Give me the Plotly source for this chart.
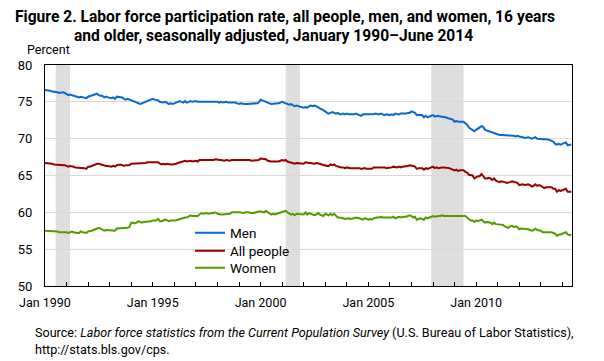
import plotly.graph_objects as go

# ---- data (monthly, Jan 1990 - Jun 2014) ----
men = [
    76.6, 76.6, 76.5, 76.5, 76.4, 76.4, 76.3, 76.3, 76.2, 76.3, 76.3, 76.2,  # 1990
    76.0, 75.9, 76.0, 75.9, 75.8, 75.8, 75.7, 75.6, 75.7, 75.6, 75.5, 75.5,  # 1991
    75.7, 75.8, 75.9, 76.0, 76.1, 76.1, 75.9, 75.9, 75.8, 75.6, 75.7, 75.6,  # 1992
    75.5, 75.5, 75.6, 75.4, 75.7, 75.7, 75.6, 75.6, 75.4, 75.3, 75.4, 75.3,  # 1993
    75.2, 75.1, 75.0, 74.9, 74.8, 74.7, 74.8, 74.9, 75.1, 75.2, 75.3, 75.3,  # 1994
    75.4, 75.3, 75.3, 75.2, 75.0, 74.9, 74.9, 75.0, 74.8, 74.7, 74.8, 74.7,  # 1995
    74.8, 74.9, 75.0, 75.1, 75.0, 74.9, 75.1, 74.9, 75.0, 75.1, 75.0, 75.1,  # 1996
    75.1, 75.0, 75.0, 75.1, 75.1, 75.0, 75.0, 75.1, 75.0, 75.0, 75.1, 75.0,  # 1997
    75.0, 74.9, 75.0, 74.9, 75.0, 75.0, 74.9, 74.9, 75.0, 74.9, 74.9, 74.8,  # 1998
    74.7, 74.8, 74.7, 74.7, 74.7, 74.7, 74.8, 74.7, 74.7, 74.7, 74.8, 74.9,  # 1999
    75.3, 75.2, 75.1, 74.9, 74.8, 74.8, 74.7, 74.7, 74.8, 74.7, 74.8, 74.9,  # 2000
    75.0, 74.9, 74.8, 74.7, 74.6, 74.7, 74.6, 74.4, 74.5, 74.4, 74.3, 74.3,  # 2001
    74.2, 74.3, 74.2, 74.4, 74.5, 74.4, 74.5, 74.4, 74.2, 74.1, 74.0, 73.9,  # 2002
    73.7, 73.5, 73.4, 73.5, 73.6, 73.5, 73.4, 73.5, 73.3, 73.3, 73.4, 73.3,  # 2003
    73.4, 73.3, 73.3, 73.2, 73.3, 73.4, 73.3, 73.3, 73.1, 73.3, 73.3, 73.2,  # 2004
    73.2, 73.3, 73.2, 73.3, 73.4, 73.3, 73.3, 73.4, 73.3, 73.2, 73.3, 73.2,  # 2005
    73.2, 73.3, 73.2, 73.4, 73.3, 73.3, 73.4, 73.4, 73.3, 73.4, 73.5, 73.5,  # 2006
    73.7, 73.6, 73.5, 73.2, 73.2, 73.1, 73.2, 72.9, 73.1, 72.9, 73.0, 73.1,  # 2007
    73.2, 73.0, 73.1, 73.1, 73.0, 73.0, 73.0, 72.9, 72.8, 72.7, 72.6, 72.6,  # 2008
    72.3, 72.4, 72.3, 72.3, 72.3, 72.3, 72.1, 71.9, 71.5, 71.3, 71.2, 71.0,  # 2009
    71.2, 71.4, 71.5, 71.7, 71.6, 71.2, 71.1, 71.0, 70.9, 70.8, 70.7, 70.6,  # 2010
    70.5, 70.5, 70.5, 70.5, 70.5, 70.4, 70.5, 70.4, 70.5, 70.4, 70.3, 70.4,  # 2011
    70.3, 70.3, 70.2, 70.1, 70.2, 70.2, 70.1, 70.0, 70.1, 70.2, 70.0, 70.0,  # 2012
    70.0, 69.9, 69.9, 70.0, 69.9, 69.8, 69.7, 69.6, 69.3, 69.2, 69.3, 69.2,  # 2013
    69.3, 69.4, 69.5, 69.1, 69.2, 69.2,                                      # 2014
]

all_people = [
    66.7, 66.7, 66.7, 66.6, 66.6, 66.5, 66.5, 66.4, 66.4, 66.4, 66.4, 66.4,  # 1990
    66.3, 66.2, 66.3, 66.3, 66.2, 66.1, 66.1, 66.0, 66.0, 66.1, 66.0, 65.9,  # 1991
    66.2, 66.2, 66.3, 66.4, 66.5, 66.6, 66.6, 66.5, 66.5, 66.3, 66.3, 66.3,  # 1992
    66.2, 66.2, 66.3, 66.2, 66.4, 66.5, 66.5, 66.4, 66.3, 66.4, 66.4, 66.4,  # 1993
    66.6, 66.6, 66.6, 66.7, 66.7, 66.6, 66.6, 66.7, 66.7, 66.8, 66.8, 66.8,  # 1994
    66.8, 66.8, 66.8, 66.8, 66.6, 66.5, 66.6, 66.5, 66.6, 66.5, 66.5, 66.5,  # 1995
    66.5, 66.6, 66.7, 66.8, 66.8, 66.9, 67.0, 66.9, 67.0, 67.0, 66.9, 67.0,  # 1996
    67.0, 66.9, 67.1, 67.1, 67.1, 67.1, 67.1, 67.0, 67.1, 67.1, 67.1, 67.2,  # 1997
    67.1, 67.1, 67.1, 67.0, 67.0, 67.1, 67.0, 67.0, 67.1, 67.1, 67.1, 67.2,  # 1998
    67.2, 67.2, 67.1, 67.1, 67.1, 67.1, 67.1, 67.0, 67.0, 67.1, 67.1, 67.1,  # 1999
    67.3, 67.3, 67.3, 67.2, 67.0, 66.9, 66.9, 66.9, 66.9, 66.8, 66.9, 67.0,  # 2000
    67.1, 67.0, 67.1, 66.9, 66.8, 66.7, 66.7, 66.6, 66.7, 66.7, 66.7, 66.7,  # 2001
    66.6, 66.8, 66.7, 66.7, 66.7, 66.6, 66.6, 66.7, 66.7, 66.6, 66.5, 66.4,  # 2002
    66.4, 66.3, 66.3, 66.5, 66.4, 66.5, 66.3, 66.2, 66.1, 66.1, 66.1, 66.0,  # 2003
    66.1, 66.0, 66.0, 66.0, 66.0, 66.1, 66.1, 66.0, 65.9, 66.0, 66.0, 65.9,  # 2004
    65.9, 66.0, 65.9, 66.1, 66.1, 66.1, 66.1, 66.2, 66.1, 66.1, 66.0, 66.0,  # 2005
    66.0, 66.1, 66.2, 66.1, 66.1, 66.2, 66.1, 66.2, 66.2, 66.2, 66.3, 66.4,  # 2006
    66.4, 66.3, 66.2, 65.9, 66.0, 66.0, 66.0, 65.8, 66.0, 65.9, 66.0, 66.0,  # 2007
    66.2, 66.0, 66.1, 66.0, 66.1, 66.1, 66.1, 66.1, 66.0, 66.0, 65.9, 65.8,  # 2008
    65.7, 65.8, 65.6, 65.7, 65.7, 65.7, 65.5, 65.4, 65.1, 65.0, 65.0, 64.6,  # 2009
    64.8, 64.9, 64.9, 65.2, 64.9, 64.6, 64.6, 64.7, 64.6, 64.4, 64.6, 64.3,  # 2010
    64.2, 64.1, 64.2, 64.2, 64.1, 64.0, 64.0, 64.1, 64.2, 64.1, 64.1, 64.0,  # 2011
    63.7, 63.8, 63.8, 63.7, 63.8, 63.8, 63.7, 63.5, 63.6, 63.8, 63.6, 63.7,  # 2012
    63.6, 63.4, 63.3, 63.4, 63.4, 63.4, 63.4, 63.2, 63.2, 62.8, 63.0, 62.9,  # 2013
    63.0, 63.0, 63.2, 62.8, 62.8, 62.8,                                      # 2014
]

women = [
    57.5, 57.5, 57.5, 57.4, 57.5, 57.4, 57.4, 57.4, 57.3, 57.3, 57.3, 57.4,  # 1990
    57.3, 57.2, 57.3, 57.4, 57.3, 57.2, 57.2, 57.2, 57.4, 57.3, 57.3, 57.2,  # 1991
    57.4, 57.4, 57.5, 57.6, 57.7, 57.8, 57.9, 57.8, 57.7, 57.5, 57.6, 57.6,  # 1992
    57.5, 57.5, 57.6, 57.5, 57.8, 57.8, 57.9, 57.8, 57.8, 57.9, 57.9, 58.0,  # 1993
    58.6, 58.6, 58.5, 58.6, 58.8, 58.7, 58.6, 58.7, 58.7, 58.8, 58.8, 58.8,  # 1994
    58.9, 58.9, 58.9, 59.1, 58.8, 58.8, 58.9, 59.0, 58.9, 58.8, 58.9, 58.9,  # 1995
    58.8, 58.9, 59.0, 59.1, 59.2, 59.3, 59.3, 59.3, 59.4, 59.6, 59.5, 59.5,  # 1996
    59.6, 59.5, 59.7, 59.9, 59.8, 59.9, 59.9, 59.8, 59.9, 59.9, 59.9, 60.0,  # 1997
    59.8, 59.7, 59.7, 59.7, 59.7, 59.8, 59.7, 59.8, 60.0, 60.0, 60.0, 60.1,  # 1998
    60.0, 60.0, 59.9, 60.0, 60.0, 60.0, 59.9, 59.9, 59.9, 60.0, 60.1, 60.1,  # 1999
    60.1, 60.0, 60.0, 60.2, 60.0, 59.8, 59.7, 59.8, 59.7, 59.8, 59.9, 60.0,  # 2000
    60.1, 60.1, 60.2, 60.0, 59.8, 59.7, 59.8, 59.6, 59.8, 59.8, 59.8, 59.8,  # 2001
    59.7, 60.0, 59.7, 59.9, 59.8, 59.7, 59.6, 59.7, 59.9, 59.7, 59.6, 59.5,  # 2002
    59.8, 59.7, 59.6, 59.8, 59.6, 59.8, 59.5, 59.3, 59.3, 59.3, 59.2, 59.1,  # 2003
    59.2, 59.2, 59.1, 59.1, 59.2, 59.3, 59.3, 59.2, 59.1, 59.0, 59.2, 59.1,  # 2004
    59.0, 59.1, 59.0, 59.2, 59.3, 59.3, 59.3, 59.4, 59.3, 59.3, 59.2, 59.2,  # 2005
    59.2, 59.3, 59.4, 59.2, 59.3, 59.4, 59.3, 59.4, 59.4, 59.4, 59.5, 59.6,  # 2006
    59.5, 59.3, 59.4, 59.0, 59.1, 59.2, 59.1, 59.0, 59.3, 59.2, 59.3, 59.4,  # 2007
    59.5, 59.4, 59.5, 59.5, 59.5, 59.6, 59.5, 59.5, 59.5, 59.5, 59.5, 59.5,  # 2008
    59.5, 59.5, 59.5, 59.5, 59.5, 59.5, 59.5, 59.3, 59.1, 58.9, 58.9, 58.7,  # 2009
    58.9, 58.8, 58.9, 59.0, 58.8, 58.6, 58.7, 58.7, 58.6, 58.4, 58.6, 58.4,  # 2010
    58.4, 58.3, 58.4, 58.3, 58.1, 58.0, 57.9, 58.1, 58.2, 58.0, 58.1, 58.0,  # 2011
    57.7, 57.8, 57.8, 57.7, 57.8, 57.7, 57.6, 57.5, 57.6, 57.8, 57.6, 57.6,  # 2012
    57.5, 57.3, 57.3, 57.4, 57.3, 57.3, 57.3, 57.2, 57.1, 56.8, 57.0, 57.0,  # 2013
    57.1, 57.2, 57.3, 57.0, 56.9, 57.0,                                      # 2014
]

months = [f"{y}-{m:02d}-01" for y in range(1990, 2015) for m in range(1, 13)][:len(men)]

recession_starts = ["1990-07-01", "2001-03-01", "2007-12-01"]
recession_ends = ["1991-03-01", "2001-11-01", "2009-06-01"]

tick_years = list(range(1990, 2015))
tick_vals = [f"{y}-01-01" for y in tick_years]
tick_text = [f"Jan {y}" if y % 5 == 0 else "" for y in tick_years]

y_ticks = [50, 55, 60, 65, 70, 75, 80]

FONT = "Roboto, Liberation Sans, sans-serif"

# plot area in pixels: x 45..572, y 65..286
def px_x(x):
    return (x - 45) / 527

def px_y(y):
    return (286 - y) / 221

fig = go.Figure()
series = [("Men", men, "#0a6acc", "legend", 233),
          ("All people", all_people, "#990000", "legend2", 251),
          ("Women", women, "#559a00", "legend3", 268)]
legend_layout = {}
for name, vals, col, leg, ly in series:
    fig.add_trace(go.Scatter(x=months, y=vals, mode="lines", name=name, legend=leg,
                             line=dict(color=col, width=2)))
    legend_layout[leg] = dict(x=px_x(190), y=px_y(ly), xanchor="left", yanchor="middle",
                              bgcolor="rgba(0,0,0,0)", font=dict(size=13.5, family=FONT),
                              itemwidth=30, borderwidth=0)

for s, e in zip(recession_starts, recession_ends):
    fig.add_shape(type="rect", xref="x", yref="paper", x0=s, x1=e, y0=0, y1=1,
                  fillcolor="#dedede", line=dict(width=0), layer="below")

fig.update_layout(
    width=604, height=361,
    margin=dict(l=45, r=32, t=65, b=75),
    paper_bgcolor="white", plot_bgcolor="white",
    font=dict(family=FONT, size=13, color="black"),
    showlegend=True,
    **legend_layout,
    xaxis=dict(type="date", range=["1990-01-01", "2014-06-13"],
               tickmode="array", tickvals=tick_vals, ticktext=tick_text,
               ticks="inside", ticklen=4, tickcolor="black", tickwidth=1,
               showgrid=False, showline=True, linecolor="black", linewidth=1,
               mirror=True, zeroline=False, tickfont=dict(size=12.5),
               ticklabelstandoff=5),
    yaxis=dict(range=[50, 80], tickmode="array", tickvals=y_ticks,
               showgrid=True, gridcolor="#d9d9d9", gridwidth=1,
               showline=True, linecolor="black", linewidth=1, mirror=True,
               zeroline=False, ticks="", ticklabelstandoff=9,
               tickfont=dict(size=13)),
)

fig.add_annotation(text="<b>Figure 2. Labor force participation rate, all people, men, and women, 16 years</b>",
                   xref="paper", yref="paper", x=px_x(13), y=px_y(17),
                   xanchor="left", yanchor="middle", showarrow=False, font=dict(size=15.6))
fig.add_annotation(text="<b>and older, seasonally adjusted, January 1990–June 2014</b>",
                   xref="paper", yref="paper", x=px_x(72), y=px_y(36),
                   xanchor="left", yanchor="middle", showarrow=False, font=dict(size=15.6))
fig.add_annotation(text="Percent", xref="paper", yref="paper", x=px_x(25), y=px_y(49),
                   xanchor="left", yanchor="middle", showarrow=False, font=dict(size=12.5))
fig.add_annotation(text="Source: <i>Labor force statistics from the Current Population Survey</i> (U.S. Bureau of Labor Statistics),",
                   xref="paper", yref="paper", x=px_x(33), y=px_y(332),
                   xanchor="left", yanchor="middle", align="left", showarrow=False,
                   font=dict(size=12.6))
fig.add_annotation(text="http://stats.bls.gov/cps.",
                   xref="paper", yref="paper", x=px_x(33), y=px_y(349),
                   xanchor="left", yanchor="middle", align="left", showarrow=False,
                   font=dict(size=12.6))

fig.write_html("out.html", config={"displayModeBar": False},
               post_script="document.body.style.margin='0';")
